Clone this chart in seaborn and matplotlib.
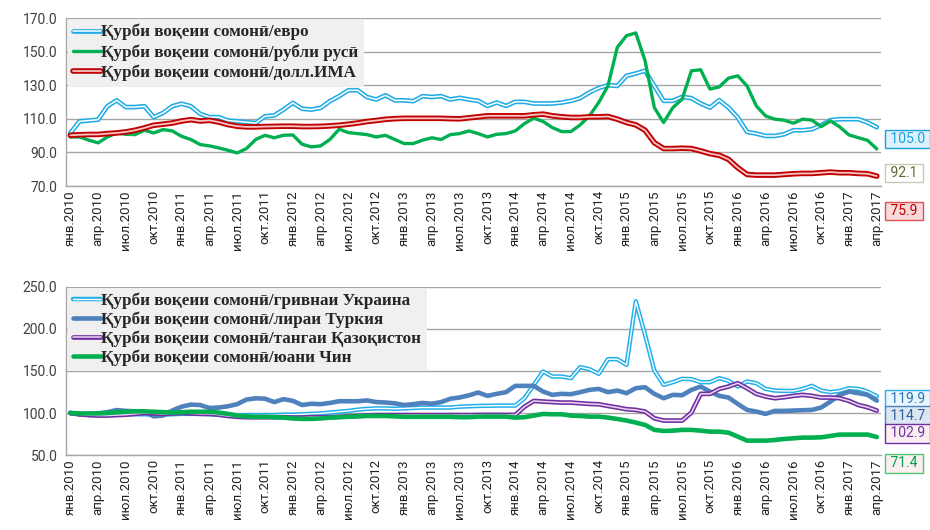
import matplotlib
matplotlib.use("Agg")
import matplotlib.pyplot as plt
import matplotlib.patheffects as pe
from matplotlib.font_manager import FontProperties
import numpy as np
import pandas as pd
import seaborn as sns

# monthly index, Jan 2010 .. Apr 2017
month_names = ["янв", "фев", "мар", "апр", "май", "июн",
               "июл", "авг", "сен", "окт", "ноя", "дек"]
periods = [f"{month_names[i % 12]}.{2010 + i // 12}" for i in range(88)]

# top panel
euro = [101.5, 108.5, 109, 109.5, 117.5, 121, 117, 117, 117.5, 111,
        113.5, 117.5, 119, 117.5, 113, 111, 111, 109, 108.5, 108,
        107.5, 111.5, 112, 115.5, 119.5, 116, 115.5, 116.5, 120.5, 123.5,
        127, 127, 123, 121.5, 124, 121, 121, 120.5, 123.5, 123,
        123.5, 121.5, 122.5, 121.5,
        120.7, 117.7, 119.7, 117.7, 120.1, 120.1, 119.1, 119.1, 119.1, 119.7,
        120.7, 122.3, 125.7, 128.3, 130.0, 129.6, 135.6, 137.0, 138.6, 129.6,
        120.7, 120.7, 123.1, 122.3, 119.1, 116.7, 121.1, 116.7, 110.8, 102.2,
        101.2, 99.8, 99.8, 100.8, 103.2, 103.2, 103.8, 106.2, 109.2, 109.8,
        109.8, 109.8, 107.8, 105.0]
ruble = [99.2, 99.2, 97.3, 95.7, 99.2, 101.6, 100.8, 100.6, 103.2, 101.6,
         103.6, 102.8, 99.6, 97.7, 94.7, 93.9, 92.7, 91.3, 89.7, 92.3,
         97.7, 100.2, 98.7, 100.2, 100.4, 94.9, 93.3, 93.9, 97.7, 103.8,
         101.8, 101.2, 100.6, 99.2, 100.2, 97.7, 95.3, 95.3, 97.3, 98.7,
         97.7, 100.6, 101.2, 102.8,
         101.2, 99.2, 100.8, 101.2, 102.8, 107.2, 110.4, 108.4, 104.8, 102.4,
         102.4, 106.4, 111.7, 119.7, 129.6, 152.5, 159.5, 161.1, 144.6, 116.7,
         107.8, 116.7, 121.7, 138.6, 139.2, 127.7, 129.0, 134.2, 135.6, 129.6,
         117.7, 111.7, 109.8, 109.2, 107.4, 109.8, 109.2, 105.4, 108.8, 105.2,
         100.4, 98.8, 97.2, 92.1]
usd = [100.2, 100.5, 100.7, 100.7, 101.2, 101.6, 102.2, 103.2, 104.6, 106.2,
       106.8, 107.5, 108.7, 109.5, 108.7, 109.1, 108.1, 106.6, 105.6, 105.2,
       105.2, 105.4, 105.5, 105.6, 105.6, 105.4, 105.4, 105.5, 105.8, 106.2,
       106.8, 107.5, 108.4, 109.0, 109.7, 110.1, 110.3, 110.3, 110.3, 110.3,
       110.3, 110.1, 110.0, 110.6,
       111.2, 111.8, 111.8, 111.8, 111.8, 111.8, 112.4, 112.8, 111.8, 111.2,
       110.8, 110.8, 111.2, 111.2, 111.4, 109.8, 107.8, 106.4, 103.2, 95.8,
       92.3, 92.3, 92.5, 92.3, 90.9, 89.3, 88.3, 85.9, 80.9, 76.9,
       76.5, 76.5, 76.5, 76.9, 77.3, 77.5, 77.5, 77.9, 78.3, 77.9,
       77.9, 77.5, 77.3, 75.9]

# bottom panel
uah = [100, 98.5, 98, 97.5, 97.5, 98, 98.5, 98.5, 98.5, 98,
       98, 98.5, 99, 99, 99, 98.5, 98, 97.5, 97, 97.5,
       97.5, 97.5, 97.5, 98, 98, 98.5, 99, 99.5, 100.5, 101.5,
       102.5, 104, 105, 105.5, 105.5, 105, 105.5, 106, 106.5, 106.5,
       106.5, 106.5, 107.5, 108,
       108.4, 108.6, 108.8, 108.8, 108.8, 117.6, 133.5, 149.4, 143.4, 143.4,
       141.5, 154.6, 152.2, 146.6, 164.1, 164.1, 157.4, 233.0, 193.1, 150.6,
       133.5, 136.7, 140.7, 140.3, 136.7, 136.7, 141.5, 138.3, 131.5, 137.5,
       135.5, 128.7, 126.7, 126.3, 126.3, 128.7, 132.3, 126.7, 124.8, 126.3,
       129.5, 128.7, 125.5, 119.9]
lira = [100, 98.5, 99, 99.5, 101, 103.5, 102.5, 102, 101.5, 96,
        97, 103, 107.5, 110, 109.5, 106, 106.5, 108, 110.5, 116,
        117.5, 117, 113, 116.5, 114.5, 109.5, 111, 110.5, 112, 114,
        114, 114, 115, 113, 112.5, 111.5, 109.5, 110.5, 112, 111,
        113, 117, 118.5, 121,
        124.4, 120.4, 122.8, 124.8, 132.3, 132.3, 132.3, 125.5, 121.6, 122.8,
        122.4, 124.8, 127.5, 128.7, 124.8, 126.7, 123.6, 129.5, 130.7, 122.8,
        117.6, 121.6, 121.2, 127.5, 131.5, 125.5, 120.4, 118.4, 110.8, 103.7,
        101.7, 98.9, 102.5, 102.5, 102.9, 103.3, 103.7, 106.5, 113.6, 121.6,
        125.5, 123.6, 121.6, 114.7]
tenge = [100, 98.5, 97.5, 97, 97, 97.5, 98, 99, 100, 99.5,
         99, 99.5, 100, 99.5, 99, 99, 98, 96.5, 95.5, 95,
         95, 95, 95, 95, 94.5, 94.5, 95, 95, 95, 95.5,
         96, 96.5, 97, 97.5, 97.5, 97.5, 97.5, 97.5, 97.5, 97.5,
         97.5, 97.5, 97.5, 97.5,
         97.7, 97.7, 97.7, 97.7, 97.7, 107.6, 114.4, 113.6, 113.0, 112.4,
         112.4, 111.6, 110.8, 110.4, 108.4, 106.5, 104.5, 103.7, 101.7, 93.7,
         91.0, 91.0, 91.0, 100.5, 122.8, 122.8, 128.7, 131.5, 135.5, 129.5,
         122.8, 119.6, 117.6, 118.8, 120.4, 121.6, 120.4, 118.4, 118.4, 117.6,
         114.4, 109.6, 106.9, 102.9]
yuan = [100, 99.5, 99.5, 99.5, 100, 101, 101.5, 102, 102, 101.5,
        101, 100.5, 101, 101.5, 101.5, 101.5, 100.5, 99, 97, 96,
        95.5, 95.5, 95, 94.5, 93.5, 93, 93, 93.5, 94.5, 95,
        95.5, 96, 96.5, 96.5, 96.5, 96, 95.5, 95.5, 95.5, 95.5,
        95.5, 95.5, 95, 95,
        95.7, 95.7, 95.7, 95.7, 94.5, 95.0, 96.9, 98.9, 98.5, 98.5,
        96.9, 96.5, 95.7, 95.7, 94.5, 92.9, 91.0, 88.6, 85.8, 79.9,
        78.6, 79.0, 79.9, 79.9, 79.0, 77.8, 77.8, 76.6, 71.9, 67.1,
        67.1, 67.1, 67.9, 69.1, 69.9, 70.7, 70.7, 71.1, 72.7, 74.3,
        74.3, 74.3, 74.3, 71.4]

prefix = "Қурби воқеии сомонӣ/"
top_names = ["евро", "рубли русӣ", "долл.ИМА"]
bottom_names = ["гривнаи Украина", "лираи Туркия", "тангаи Қазоқистон", "юани Чин"]

x = np.arange(len(periods))
df_top = pd.DataFrame({"x": x, "евро": euro, "рубли русӣ": ruble, "долл.ИМА": usd})
df_bot = pd.DataFrame({"x": x, "гривнаи Украина": uah, "лираи Туркия": lira,
                       "тангаи Қазоқистон": tenge, "юани Чин": yuan})


def double(outer, inner, w_out, w_in):
    return dict(color=inner, linewidth=w_in,
                path_effects=[pe.Stroke(linewidth=w_out, foreground=outer), pe.Normal()])


top_styles = [double("#22ACE6", "white", 3.4, 1.1),
              dict(color="#00B050", linewidth=2.4),
              double("#C00000", "#F6C4C4", 4.0, 1.3)]
bottom_styles = [double("#22B0EA", "white", 3.2, 1.0),
                 dict(color="#4F81BD", linewidth=3.3),
                 double("#7030A0", "#E8D8F2", 3.4, 1.1),
                 dict(color="#00B050", linewidth=3.3)]

# end-value boxes: (text colour, edge, face, y position of box)
top_boxes = [("#1BA1E2", "#1BA1E2", "#DDF2FC", 98.0),
             ("#5B6B2E", "#C8C8B8", "white", 78.0),
             ("#C00000", "#E05050", "#F9D9DA", 55.1)]
bottom_boxes = [("#2E75B6", "#2DB2EA", "#EAF6FD", 116.1),
                ("#2F5F9E", "#4F81BD", "#DCE6F2", 97.0),
                ("#7030A0", "#7030A0", "#FBEFF3", 75.6),
                ("#00A050", "#4CC870", "#FBEFEF", 39.9)]

sns.set_style("white")
plt.rcParams["font.family"] = ["Roboto", "DejaVu Sans"]

legend_font = FontProperties(family=["Liberation Serif", "DejaVu Serif"], weight="bold", size=12.3)
grid_col = "#A6A6A6"

fig = plt.figure(figsize=(9.3, 5.3), dpi=100)
ax_top = fig.add_axes([0.0706, 0.649, 0.8772, 0.317])
ax_bot = fig.add_axes([0.0706, 0.1415, 0.8772, 0.317])

panels = [
    (ax_top, df_top, top_names, top_styles, top_boxes, (70, 170), np.arange(70, 171, 20), 0.22),
    (ax_bot, df_bot, bottom_names, bottom_styles, bottom_boxes, (50, 250), np.arange(50, 251, 50), 0.14),
]

for ax, df, names, styles, boxes, ylim, yticks, spacing in panels:
    for name, style in zip(names, styles):
        sns.lineplot(data=df, x="x", y=name, ax=ax, label=prefix + name, **style)

    ax.set_xlim(-0.5, len(periods) - 0.5)
    ax.set_ylim(*ylim)
    ax.set_yticks(yticks)
    ax.set_yticklabels([f"{v:.1f}" for v in yticks], fontsize=10, color="#404040")
    ax.set_xticks(x[::3])
    ax.set_xticklabels(periods[::3], rotation=90, fontsize=9.5, color="#222222")
    ax.set_xticks(x[::3] - 0.5, minor=True)
    ax.tick_params(axis="x", which="major", length=0, pad=3)
    ax.tick_params(axis="x", which="minor", length=4, color=grid_col, width=1)
    ax.tick_params(axis="y", length=4, color=grid_col, width=1, pad=2)
    ax.set_xlabel("")
    ax.set_ylabel("")

    ax.yaxis.grid(True, color=grid_col, linewidth=1)
    ax.set_axisbelow(True)
    for side in ["top", "right"]:
        ax.spines[side].set_visible(False)
    for side in ["left", "bottom"]:
        ax.spines[side].set_color(grid_col)
        ax.spines[side].set_linewidth(1)

    ax.legend(loc="upper left", bbox_to_anchor=(0.003, 0.995), prop=legend_font,
              frameon=True, facecolor="#F0F0F0", edgecolor="none", framealpha=1,
              fancybox=False, handlelength=1.6, handletextpad=0.05,
              labelspacing=spacing, borderpad=0.3, borderaxespad=0)

    for name, (tc, ec, fc, ypos) in zip(names, boxes):
        ax.text(1.0065, ypos, f" {df[name].iloc[-1]:.1f} ", transform=ax.get_yaxis_transform(),
                ha="left", va="center", fontsize=10, color=tc, clip_on=False,
                bbox=dict(boxstyle="square,pad=0.15", fc=fc, ec=ec, lw=1))

fig.savefig("out.png", dpi=100)
